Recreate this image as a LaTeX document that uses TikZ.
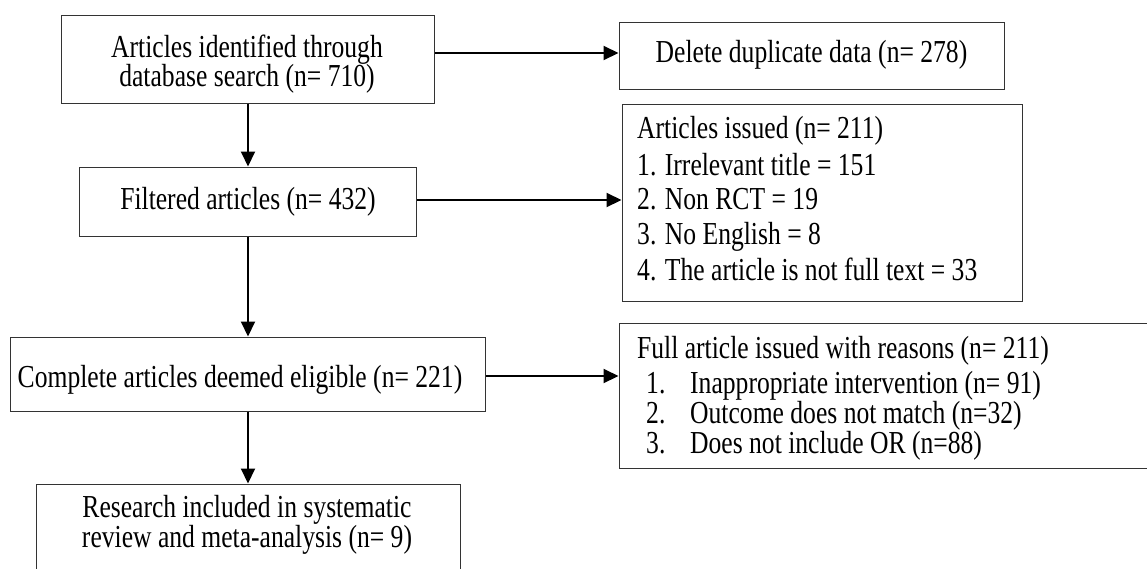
\documentclass[tikz,border=0pt]{standalone}
\usepackage{fontspec}
\setmainfont{Liberation Serif}[FakeStretch=0.8]
\usetikzlibrary{arrows.meta}
\begin{document}
\begin{tikzpicture}[x=1pt,y=-1pt,
  box/.style={draw=black!80, line width=1pt, inner sep=0pt},
  txt/.style={font=\fontsize{32}{32}\selectfont, inner sep=0pt, anchor=base},
  txtl/.style={txt, anchor=base west},
  arr/.style={-{Triangle[length=15pt,width=14pt]}, line width=2pt}]
\useasboundingbox (0,0) rectangle (1147,568);
% boxes
\node[box, minimum width=373pt, minimum height=88pt] (b1) at (248,59) {};
\node[box, minimum width=385pt, minimum height=67pt] (b2) at (811.5,55.5) {};
\node[box, minimum width=337pt, minimum height=69pt] (filt) at (248,201.5) {};
\node[box, minimum width=400pt, minimum height=197pt] (b3) at (822,202.5) {};
\node[box, minimum width=475pt, minimum height=74pt] (comp) at (248,374) {};
\node[box, minimum width=541pt, minimum height=145pt] (b4) at (889.5,395.5) {};
\node[box, minimum width=424pt, minimum height=96pt] (res) at (248,532) {};
% texts
\node[txt] (t1a) at (247,57) {Articles identified through};
\node[txt] (t1b) at (247,86) {database search (n= 710)};
\node[txt] (t2) at (811.5,62) {Delete duplicate data (n= 278)};
\node[txt] (tf) at (248,209) {Filtered articles (n= 432)};
\node[txtl] (t3a) at (637,138) {Articles issued (n= 211)};
\node[txtl] (t3b) at (637,175) {1. Irrelevant title = 151};
\node[txtl] (t3c) at (637,209) {2. Non RCT = 19};
\node[txtl] (t3d) at (637,244) {3. No English = 8};
\node[txtl] (t3e) at (637,280) {4. The article is not full text = 33};
\node[txt] (tc) at (240,387) {Complete articles deemed eligible (n= 221)};
\node[txtl] (t4a) at (637,358) {Full article issued with reasons (n= 211)};
\node[txtl] (t4n1) at (646,393) {1.};
\node[txtl] (t4b) at (690,393) {Inappropriate intervention (n= 91)};
\node[txtl] (t4n2) at (646,423) {2.};
\node[txtl] (t4c) at (690,423) {Outcome does not match (n=32)};
\node[txtl] (t4n3) at (646,453) {3.};
\node[txtl] (t4d) at (690,453) {Does not include OR (n=88)};
\node[txt] (tr1) at (247,517) {Research included in systematic};
\node[txt] (tr2) at (247,547) {review and meta-analysis (n= 9)};
% connectors
\draw[arr] ([yshift=6pt]b1.east) -- ([yshift=6pt]b1.east -| b2.west);
\draw[arr] (b1.south) -- (filt.north);
\draw[arr] ([yshift=1.5pt]filt.east) -- ([yshift=1.5pt]filt.east -| b3.west);
\draw[arr] (filt.south) -- (comp.north);
\draw[arr] ([yshift=-2pt]comp.east) -- ([yshift=-2pt]comp.east -| b4.west);
\draw[arr] (comp.south) -- (res.north);
\end{tikzpicture}
\end{document}
